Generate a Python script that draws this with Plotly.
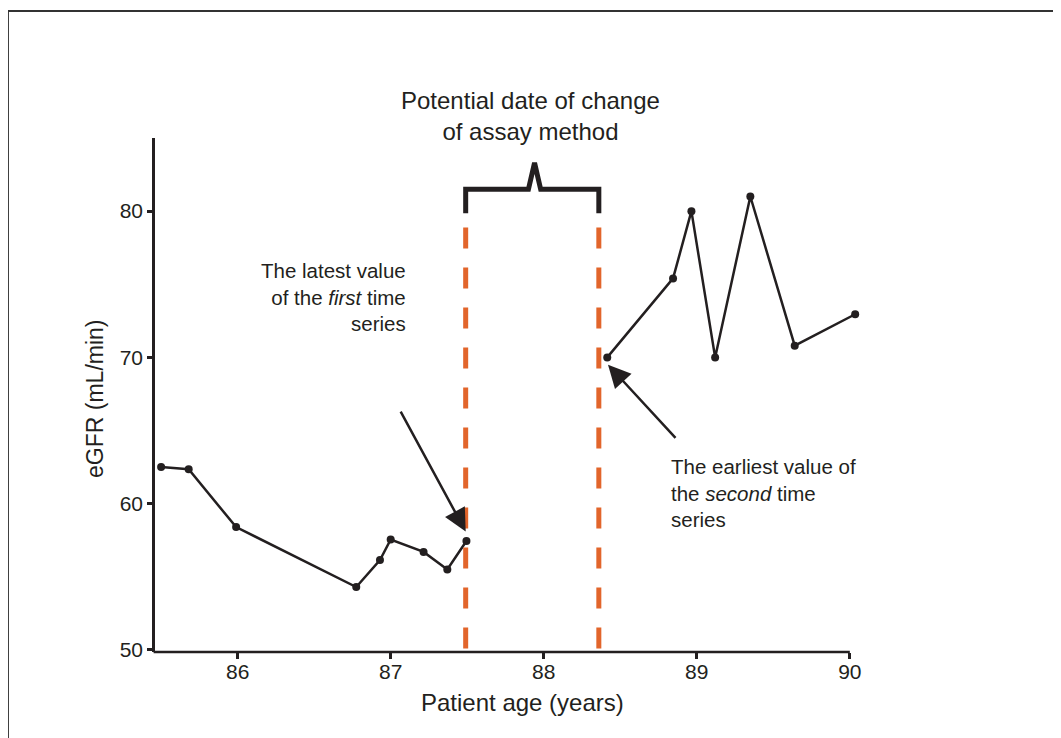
import plotly.graph_objects as go

# Data
age_first = [85.50, 85.68, 85.99, 86.775, 86.93, 87.00, 87.215, 87.37, 87.495]
egfr_first = [62.5, 62.35, 58.4, 54.3, 56.15, 57.55, 56.7, 55.5, 57.45]

age_second = [88.415, 88.845, 88.965, 89.12, 89.35, 89.64, 90.035]
egfr_second = [70.0, 75.4, 80.0, 70.0, 81.0, 70.8, 72.95]

change_window = [87.49, 88.36]

x_ticks = [86, 87, 88, 89, 90]
y_ticks = [50, 60, 70, 80]

INK = "#231f20"
ORANGE = "#e2652b"
FONT = "Liberation Sans, Arial, sans-serif"

X_MIN, X_MAX = 85.46, 90.06
X_AXIS_END = 90.0

fig = go.Figure()

for xs, ys in [(age_first, egfr_first), (age_second, egfr_second)]:
    fig.add_trace(go.Scatter(
        x=xs, y=ys, mode="lines+markers",
        line=dict(color=INK, width=2.5),
        marker=dict(color=INK, size=8),
        cliponaxis=False, showlegend=False, hoverinfo="x+y",
    ))

# Orange dashed lines marking the possible change window
for xv in change_window:
    fig.add_shape(type="line", xref="x", yref="y",
                  x0=xv, x1=xv, y0=50.1, y1=79.9,
                  line=dict(color=ORANGE, width=5, dash="21px,19px"))

# Bracket above the window
x0, x1 = change_window
xm = 87.94
path = (f"M {x0},79.85 L {x0},81.5 L {xm-0.04},81.5 L {xm},83.3 "
        f"L {xm+0.04},81.5 L {x1},81.5 L {x1},79.85")
fig.add_shape(type="path", xref="x", yref="y", path=path,
              line=dict(color=INK, width=5))

# x-axis line ending at the last tick
fig.add_shape(type="line", xref="paper", yref="paper",
              x0=-0.002, x1=(X_AXIS_END - X_MIN) / (X_MAX - X_MIN), y0=0, y1=0,
              line=dict(color=INK, width=2.5))

# Frame (left and top edges visible)
fig.add_shape(type="line", xref="paper", yref="paper",
              x0=-0.2089, x1=-0.2089, y0=1.2471, y1=-0.3,
              line=dict(color="#333333", width=2))
fig.add_shape(type="line", xref="paper", yref="paper",
              x0=-0.2089, x1=1.5, y0=1.2471, y1=1.2471,
              line=dict(color="#333333", width=2))

annotations = [
    dict(x=0.5329, y=1.0428, xref="paper", yref="paper",
         text="Potential date of change<br>of assay method",
         showarrow=False, xanchor="center", yanchor="middle", align="center",
         font=dict(size=24, color=INK, family=FONT)),
    dict(x=87.11, y=74.1, xref="x", yref="y",
         text="The latest value<br>of the <i>first</i> time<br>series",
         showarrow=False, xanchor="right", yanchor="middle", align="right",
         font=dict(size=20.5, color=INK, family=FONT)),
    dict(x=88.82, y=60.7, xref="x", yref="y",
         text="The earliest value of<br>the <i>second</i> time<br>series",
         showarrow=False, xanchor="left", yanchor="middle", align="left",
         font=dict(size=20.5, color=INK, family=FONT)),
    dict(x=87.49, y=58.1, xref="x", yref="y", ax=87.06, ay=66.4,
         axref="x", ayref="y", text="", showarrow=True,
         arrowhead=2, arrowsize=1.8, arrowwidth=2.5, arrowcolor=INK, standoff=0),
    dict(x=88.42, y=69.5, xref="x", yref="y", ax=88.87, ay=64.4,
         axref="x", ayref="y", text="", showarrow=True,
         arrowhead=2, arrowsize=1.8, arrowwidth=2.5, arrowcolor=INK, standoff=0),
    dict(x=0.5215, y=-0.0992, xref="paper", yref="paper", text="Patient age (years)",
         showarrow=False, xanchor="center", yanchor="middle",
         font=dict(size=24, color=INK, family=FONT)),
    dict(x=-0.0853, y=0.4922, xref="paper", yref="paper", text="eGFR (mL/min)",
         showarrow=False, xanchor="center", yanchor="middle", textangle=-90,
         font=dict(size=23, color=INK, family=FONT)),
]

PLOT_W = (X_MAX - X_MIN) * 152.97
L, T = 147, 130
fig.update_layout(
    width=1061, height=738,
    margin=dict(l=L, r=1061 - L - PLOT_W, t=T, b=738 - T - 514),
    paper_bgcolor="white", plot_bgcolor="white",
    font=dict(family=FONT, color=INK),
    annotations=annotations,
    showlegend=False,
)
fig.update_xaxes(
    range=[X_MIN, X_MAX], tickvals=x_ticks, ticktext=[str(v) for v in x_ticks],
    showgrid=False, zeroline=False, showline=False,
    ticks="outside", ticklen=6, tickwidth=2.5, tickcolor=INK,
    ticklabelstandoff=-5,
    tickfont=dict(size=21, color=INK, family=FONT),
)
fig.update_yaxes(
    range=[49.86, 85], tickvals=y_ticks, ticktext=[str(v) for v in y_ticks],
    showgrid=False, zeroline=False, showline=True, linecolor=INK, linewidth=2.5,
    ticks="outside", ticklen=5, tickwidth=2.5, tickcolor=INK,
    tickfont=dict(size=21, color=INK, family=FONT),
)

fig.write_html("out.html")
